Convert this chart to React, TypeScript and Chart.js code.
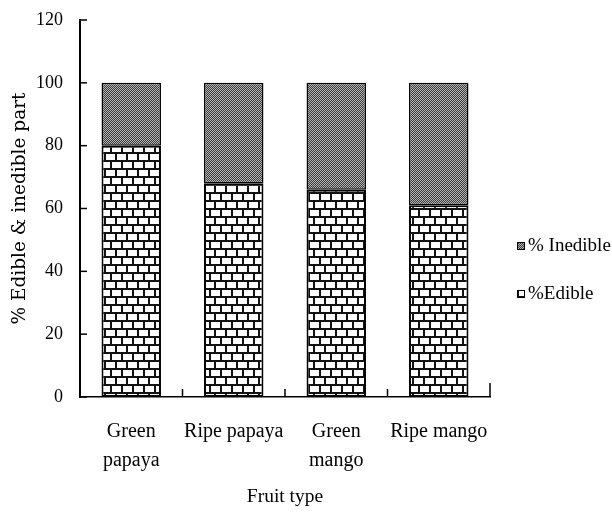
import React, { useEffect, useRef } from "react";
import { Chart, registerables } from "chart.js";

Chart.register(...registerables);

const categories: (string | string[])[] = [["Green", "papaya"], "Ripe papaya", ["Green", "mango"], "Ripe mango"];
const edible = [80, 68, 66, 61];
const inedible = [20, 32, 34, 39];
const seriesNames = ["%Edible", "% Inedible"];
const yTicks = [0, 20, 40, 60, 80, 100, 120];

const SERIF = "'Liberation Serif', 'Times New Roman', serif";
const WIDE = "'DejaVu Serif', serif";

function makeBrick(): CanvasPattern | string {
  const c = document.createElement("canvas");
  c.width = 22;
  c.height = 16;
  const g = c.getContext("2d");
  if (!g) return "#fff";
  g.fillStyle = "#fff";
  g.fillRect(0, 0, 22, 16);
  g.fillStyle = "#111";
  g.fillRect(0, 0, 22, 2);
  g.fillRect(0, 8, 22, 2);
  g.fillRect(0, 0, 2, 8);
  g.fillRect(11, 0, 2, 8);
  g.fillRect(5, 8, 2, 8);
  g.fillRect(16, 8, 2, 8);
  const p = g.createPattern(c, "repeat");
  return p || "#fff";
}

function makeDots(): CanvasPattern | string {
  const c = document.createElement("canvas");
  c.width = 2;
  c.height = 2;
  const g = c.getContext("2d");
  if (!g) return "#777";
  g.fillStyle = "#3a3a3a";
  g.fillRect(0, 0, 2, 2);
  g.fillStyle = "#b5b5b5";
  g.fillRect(0, 0, 1, 1);
  g.fillRect(1, 1, 1, 1);
  const p = g.createPattern(c, "repeat");
  return p || "#777";
}

const tickPlugin = {
  id: "innerTicks",
  afterDraw(chart: any) {
    const { ctx, scales } = chart;
    const x = scales.x;
    const y = scales.y;
    const bottom = y.getPixelForValue(0);
    const left = x.left;
    ctx.save();
    ctx.strokeStyle = "#000";
    ctx.lineWidth = 1.5;
    yTicks.forEach((v) => {
      const py = y.getPixelForValue(v);
      ctx.beginPath();
      ctx.moveTo(left, py);
      ctx.lineTo(left + 7, py);
      ctx.stroke();
    });
    for (let i = 0; i < categories.length; i++) {
      const px = x.getPixelForValue(i + 0.5);
      const h = i === categories.length - 1 ? 14 : 8;
      ctx.beginPath();
      ctx.moveTo(px, bottom);
      ctx.lineTo(px, bottom - h);
      ctx.stroke();
    }
    ctx.restore();
  },
};

const legendPlugin = {
  id: "sideLegend",
  afterDraw(chart: any) {
    const { ctx, chartArea } = chart;
    const ds = chart.data.datasets;
    const order = [1, 0];
    const x0 = chartArea.right + 27;
    const yMid = 270;
    ctx.save();
    order.forEach((di, k) => {
      const cy = yMid + (k - 0.5) * 48;
      ctx.fillStyle = ds[di].backgroundColor;
      ctx.fillRect(x0, cy - 4, 8, 8);
      ctx.strokeStyle = "#000";
      ctx.lineWidth = 1;
      ctx.strokeRect(x0 + 0.5, cy - 3.5, 7, 7);
      ctx.fillStyle = "#000";
      ctx.font = `19px ${SERIF}`;
      ctx.textBaseline = "middle";
      ctx.textAlign = "left";
      ctx.fillText(ds[di].label, x0 + 11, cy);
    });
    ctx.restore();
  },
};

export default function App() {
  const ref = useRef<HTMLCanvasElement | null>(null);
  useEffect(() => {
    if (!ref.current) return;
    const brick = makeBrick();
    const dots = makeDots();
    const chart = new Chart(ref.current, {
      type: "bar",
      data: {
        labels: categories,
        datasets: [
          {
            label: seriesNames[0],
            data: edible,
            backgroundColor: brick as any,
            borderColor: "#000",
            borderWidth: 2,
            borderSkipped: false,
          },
          {
            label: seriesNames[1],
            data: inedible,
            backgroundColor: dots as any,
            borderColor: "#000",
            borderWidth: 1.5,
            borderSkipped: false,
          },
        ],
      },
      options: {
        animation: false,
        responsive: true,
        maintainAspectRatio: false,
        layout: { padding: { left: 0, top: 20, right: 122, bottom: 0 } },
        datasets: { bar: { categoryPercentage: 1, barPercentage: 0.58 } },
        plugins: {
          tooltip: { enabled: false },
          legend: { display: false },
        },
        scales: {
          x: {
            stacked: true,
            grid: { display: false, drawTicks: false },
            border: { display: true, color: "#000", width: 1.5 },
            afterFit: (s: any) => {
              s.height = 116;
              s.paddingLeft = 0;
              s.paddingRight = 0;
            },
            ticks: {
              color: "#000",
              padding: 20.5,
              maxRotation: 0,
              autoSkip: false,
              font: { family: SERIF, size: 20, lineHeight: 1.45 },
            },
            title: {
              display: true,
              text: "Fruit type",
              color: "#000",
              font: { family: SERIF, size: 19.5, lineHeight: 1.2 },
              padding: { top: 0, bottom: 4 },
            },
          },
          y: {
            stacked: true,
            min: 0,
            max: 120,
            grid: { display: false, drawTicks: false },
            border: { display: true, color: "#000", width: 2 },
            afterFit: (s: any) => {
              s.width = 80;
              s.paddingTop = 0;
              s.paddingBottom = 0;
            },
            ticks: {
              stepSize: 20,
              color: "#000",
              padding: 17,
              font: { family: SERIF, size: 18 },
            },
            title: {
              display: true,
              text: "% Edible & inedible part",
              color: "#000",
              font: { family: WIDE, size: 18.5, lineHeight: 1.2 },
              padding: { top: 9, bottom: 0 },
            },
          },
        },
      },
      plugins: [tickPlugin, legendPlugin],
    });
    return () => chart.destroy();
  }, []);
  return (
    <div style={{ position: "fixed", left: 0, top: 0, width: 612, height: 513, background: "#fff" }}>
      <canvas ref={ref} />
    </div>
  );
}
